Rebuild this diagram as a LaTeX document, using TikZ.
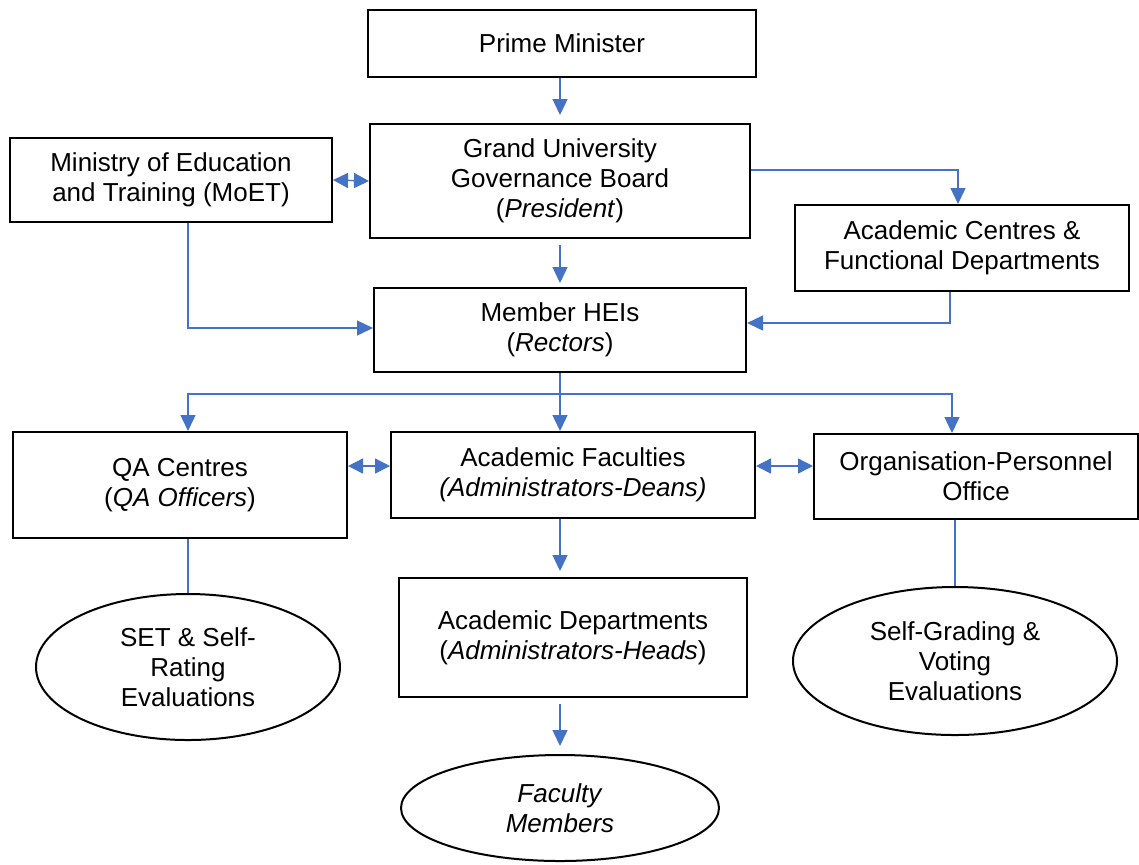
\documentclass[tikz,border=0pt]{standalone}
\usepackage{fontspec}
\setmainfont{Liberation Sans}
\usetikzlibrary{arrows.meta,shapes.geometric}
\definecolor{linkblue}{HTML}{4472C4}

\begin{document}
\begin{tikzpicture}[x=0.5pt,y=-0.5pt,
    font=\fontsize{13}{15}\selectfont,
    box/.style={draw,line width=1pt,align=center,inner sep=0pt},
    oval/.style={draw,line width=1pt,ellipse,align=center,inner sep=0pt},
    arr/.style={linkblue,line width=0.7pt,-{Triangle[width=7.5pt,length=8pt]}},
    dbl/.style={linkblue,line width=0.7pt,{Triangle[width=7.5pt,length=7.5pt]}-{Triangle[width=7.5pt,length=7.5pt]}},
    plain/.style={linkblue,line width=0.7pt}]
  \useasboundingbox (0,0) rectangle (1139,864);
  % boxes
  \node[box,minimum width=194pt,minimum height=33.5pt] (pm) at (562,43.5) {Prime Minister};
  \node[box,minimum width=190pt,minimum height=57pt] (gub) at (560,181) {Grand University\\Governance Board\\(\textit{President})};
  \node[box,minimum width=161pt,minimum height=42pt] (moet) at (171,180) {Ministry of Education\\and Training (MoET)};
  \node[box,minimum width=167pt,minimum height=43pt] (acf) at (962,248) {Academic Centres \&\\Functional Departments};
  \node[box,minimum width=186pt,minimum height=42pt] (hei) at (560,330) {Member HEIs\\(\textit{Rectors})};
  \node[box,minimum width=167pt,minimum height=53pt] (qa) at (180,485) {QA Centres\\(\textit{QA Officers})};
  \node[box,minimum width=182pt,minimum height=43pt] (fac) at (573,475) {Academic Faculties\\\textit{(Administrators-Deans)}};
  \node[box,minimum width=162pt,minimum height=42.5pt] (opo) at (976,476.5) {Organisation-Personnel\\Office};
  \node[box,minimum width=174pt,minimum height=59.5pt] (dep) at (573,637.5) {Academic Departments\\(\textit{Administrators-Heads})};
  % ovals
  \node[oval,minimum width=152pt,minimum height=73pt] (set) at (188,667) {SET \& Self-\\Rating\\Evaluations};
  \node[oval,minimum width=162pt,minimum height=74pt] (sgv) at (955,661) {Self-Grading \&\\Voting\\Evaluations};
  \node[oval,minimum width=159pt,minimum height=53pt] (fm) at (560,808) {\textit{Faculty}\\\textit{Members}};
  % connectors
  \draw[arr,shorten >=4pt] (gub.north |- pm.south) -- (gub.north);
  \draw[arr,shorten >=2pt,shorten <=3pt] (gub.south) -- (hei.north);
  \draw[dbl] (moet.east) -- (gub.west);
  \draw[arr] ([yshift=5.5pt]gub.east) -| ([xshift=-2pt]acf.north);
  \draw[arr] ([xshift=8.5pt]moet.south) |- ([yshift=1pt]hei.west);
  \draw[arr] ([xshift=-6pt]acf.south) |- ([yshift=3.5pt]hei.east);
  \coordinate (bus) at (hei.south |- 0,394);
  \draw[plain] (hei.south) -- (bus);
  \draw[arr] (bus) -| ([xshift=4pt]qa.north);
  \draw[arr] (bus) -- (bus |- fac.north);
  \draw[arr] (bus) -| ([xshift=-12pt]opo.north);
  \draw[dbl] (qa.east |- 0,466) -- (fac.west |- 0,466);
  \draw[dbl] (fac.east |- 0,466) -- (opo.west |- 0,466);
  \draw[arr,shorten >=3pt] (bus |- fac.south) -- (bus |- dep.north);
  \draw[plain] (set.north |- qa.south) -- (set.north);
  \draw[plain] (sgv.north |- opo.south) -- (sgv.north);
  \draw[arr,shorten >=4pt,shorten <=3pt] (fm.north |- dep.south) -- (fm.north);
\end{tikzpicture}
\end{document}
